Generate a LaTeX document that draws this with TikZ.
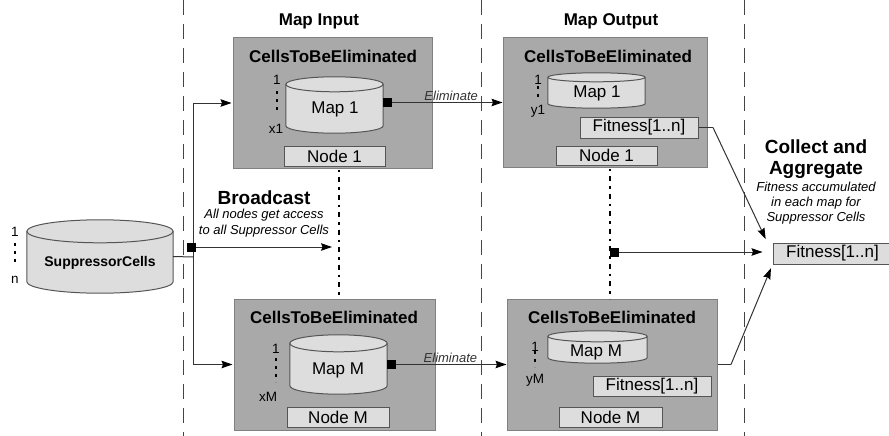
\documentclass[tikz,border=0pt]{standalone}
\usepackage{fontspec}
\setmainfont{Liberation Sans}
\usetikzlibrary{arrows.meta,calc}

\definecolor{lanegray}{HTML}{444444}
\definecolor{stagefill}{HTML}{A9A9A9}
\definecolor{stageline}{HTML}{808080}
\definecolor{lightfill}{HTML}{DDDDDD}
\definecolor{darkline}{HTML}{555555}
\definecolor{wire}{HTML}{333333}

\tikzset{
  lane/.style={lanegray, line width=1pt, dash pattern=on 15pt off 9pt},
  stage/.style={draw=stageline, fill=stagefill, line width=1pt, inner sep=0pt},
  tag/.style={draw=darkline, fill=lightfill, line width=1pt, inner sep=0pt,
    font=\fontsize{17}{20}\selectfont},
  drum/.style={inner sep=0pt},
  drumstyle/.style={draw=darkline, fill=lightfill, line width=1pt},
  heading/.style={font=\fontsize{17}{20}\selectfont\bfseries},
  bigheading/.style={font=\fontsize{19}{21}\selectfont\bfseries},
  note/.style={font=\fontsize{13}{15.5}\selectfont\itshape, align=center},
  idx/.style={font=\fontsize{13.5}{15}\selectfont},
  idxdots/.style={line width=2.8pt, dash pattern=on 2.8pt off 5.2pt},
  chain/.style={black, line width=2.4pt, dash pattern=on 2.5pt off 5pt on 5pt off 5pt},
  wirebase/.style={wire, line width=1pt},
  tipend/.style={},
  arrow/.style={wirebase, -{Stealth[length=11pt,width=7.5pt,inset=1.5pt,black]}},
  sqarrow/.style={wirebase, {Square[length=9pt,width=9pt,black]}-{Stealth[length=11pt,width=7.5pt,inset=1.5pt,black]}},
  elabel/.style={font=\fontsize{13}{15}\selectfont\itshape, above, inner sep=1pt},
}

% vertical drum drawn over a named node; #2 is the half height of its end caps
\newcommand\drawdrum[2]{%
  \filldraw[drumstyle] let \p1=(#1.north west), \p2=(#1.south east), \n1={(\x2-\x1)/2} in
    (\x1,\y1-#2) -- (\x1,\y2+#2)
    arc[start angle=180, end angle=360, x radius=\n1, y radius=#2]
    -- (\x2,\y1-#2)
    arc[start angle=0, end angle=180, x radius=\n1, y radius=#2] -- cycle;
  \draw[drumstyle, fill=none] let \p1=(#1.north west), \p2=(#1.south east), \n1={(\x2-\x1)/2} in
    (\x1,\y1-#2) arc[start angle=180, end angle=360, x radius=\n1, y radius=#2];
}

\begin{document}
\begin{tikzpicture}[x=1pt, y=-1pt]
\useasboundingbox (0,0) rectangle (889,436);

% swim lanes
\draw[lane] (183,0) -- (183,436);
\draw[lane] (481,0) -- (481,436);
\draw[lane] (744,0) -- (744,436);

\node[heading] (hin) at (319,21) {Map Input};
\node[heading] (hout) at (611,21) {Map Output};

% map input stages
\node[stage, minimum width=199pt, minimum height=130pt] (tl) at (332.5,103) {};
\node[heading] (tlt) at (333,56) {CellsToBeEliminated};
\node[drum, minimum width=97pt, minimum height=56pt] (m1) at (334.5,105) {};
\drawdrum{m1}{7.5pt}
\node[font=\fontsize{17}{20}\selectfont] (m1t) at (335,109) {Map 1};
\node[idx] (a1) at (277,80) {1};
\draw[idxdots] (277,91) -- (277,114);
\node[idx] (ax1) at (276,129) {x1};
\node[tag, minimum width=101pt, minimum height=20pt] (n1) at (334.5,156) {Node 1};

\node[stage, minimum width=201pt, minimum height=131pt] (bl) at (334.5,364.5) {};
\node[heading] (blt) at (334,317) {CellsToBeEliminated};
\node[drum, minimum width=97pt, minimum height=59pt] (mm) at (338.5,364.5) {};
\drawdrum{mm}{8.5pt}
\node[font=\fontsize{17}{20}\selectfont] (mmt) at (338,370) {Map M};
\node[idx] (a2) at (276,349) {1};
\draw[idxdots] (276,358) -- (276,382);
\node[idx] (axm) at (268,397) {xM};
\node[tag, minimum width=102pt, minimum height=20pt] (nm) at (338,417) {Node M};

% map output stages
\node[stage, minimum width=204pt, minimum height=129pt] (tr) at (605,102.5) {};
\node[heading] (trt) at (608,56) {CellsToBeEliminated};
\node[drum, minimum width=97pt, minimum height=35pt] (r1) at (596.5,90.5) {};
\drawdrum{r1}{4.5pt}
\node[font=\fontsize{17}{20}\selectfont] (r1t) at (597,93) {Map 1};
\node[idx] (b1) at (538,80) {1};
\draw[idxdots] (538,86) -- (538,100);
\node[idx] (by1) at (538,111) {y1};
\node[tag, minimum width=118pt, minimum height=21pt] (f1) at (639,127.5) {Fitness[1..n]};
\node[tag, minimum width=101pt, minimum height=19pt] (o1) at (606.5,155.5) {Node 1};

\node[stage, minimum width=210pt, minimum height=131pt] (br) at (612,364.5) {};
\node[heading] (brt) at (612,317) {CellsToBeEliminated};
\node[drum, minimum width=99pt, minimum height=32pt] (rm) at (597.5,347) {};
\drawdrum{rm}{5.5pt}
\node[font=\fontsize{17}{20}\selectfont] (rmt) at (596,352) {Map M};
\node[idx] (b2) at (535,347) {1};
\draw[idxdots] (535,351) -- (535,367);
\node[idx] (bym) at (535,380) {yM};
\node[tag, minimum width=118pt, minimum height=20pt] (fm) at (652,386) {Fitness[1..n]};
\node[tag, minimum width=103pt, minimum height=20pt] (om) at (610.5,417) {Node M};

% suppressor cells store
\node[drum, minimum width=146pt, minimum height=73pt] (sc) at (100,256.5) {};
\drawdrum{sc}{11.5pt}
\node[font=\fontsize{14}{17}\selectfont\bfseries] (sct) at (100,263) {SuppressorCells};
\node[idx] (c1) at (15,232) {1};
\draw[idxdots] (15,243) -- (15,265);
\node[idx] (cn) at (15,280) {n};

% aggregated result
\node[tag, minimum width=119pt, minimum height=21pt] (fin) at (832.5,253.5) {Fitness[1..n]};

% captions
\node[bigheading] (bc) at (264,198) {Broadcast};
\node[note] (bcn) at (264,223) {All nodes get access\\to all Suppressor Cells};
\node[bigheading, align=center] (ca) at (816,159) {Collect and\\Aggregate};
\node[note, font=\fontsize{13}{15}\selectfont\itshape] (can) at (816,203) {Fitness accumulated\\in each map for\\Suppressor Cells};

% distribution bus
\coordinate (bus) at (193,257);
\draw[wirebase] (sc.east) -- (bus);
\draw[wirebase] (tl.west -| bus) -- (bl.west -| bus);
\draw[arrow, shorten >=1pt] (tl.west -| bus) -- (tl.west);
\draw[arrow, shorten >=1pt] (bl.west -| bus) -- (bl.west);
\coordinate (bcs) at (187,247);
\coordinate (bce) at (332,247);
\draw[sqarrow] (bcs) -- (bce);

% node chains
\coordinate (ch1) at (339,0);
\coordinate (ch2) at (610,0);
\draw[chain] (n1.south -| ch1) ++(0,3) -- (bl.north -| ch1);
\draw[chain] (o1.south -| ch2) ++(0,3) -- (br.north -| ch2);

% eliminate flows
\draw[sqarrow] (m1.east |- tr.west) -- node[elabel, pos=0.57] {Eliminate} (tr.west);
\draw[sqarrow] (mm.east |- br.west) -- node[elabel, pos=0.53] {Eliminate} (br.west);

% collection
\coordinate (jn) at (610,252);
\draw[sqarrow, shorten >=10pt] (jn) -- (jn -| fin.west);
\coordinate (k1) at (713,127.5);
\draw[wirebase] (f1.east) -- (k1);
\draw[arrow, shorten >=16pt] (k1) -- (fin.west);
\coordinate (k2) at (731,364.5);
\draw[wirebase] (br.east) -- (k2);
\draw[arrow, shorten >=4pt] (k2) -- (fin.south west);
\end{tikzpicture}
\end{document}
